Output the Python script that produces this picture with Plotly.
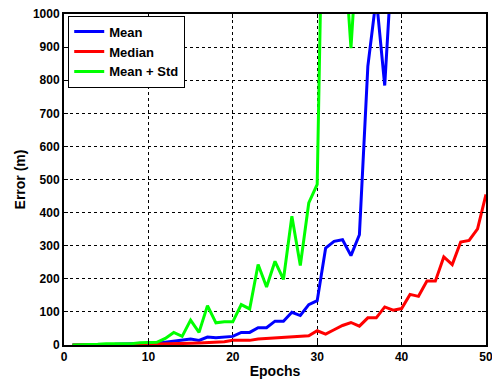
import plotly.graph_objects as go

# Localisation error per training epoch
epochs = list(range(1, 51))

mean_err = [0, 0, 0, 1, 2, 2, 3, 3, 4, 5,
            5, 8, 12, 14, 18, 14, 24, 22, 25, 26,
            38, 38, 52, 52, 72, 72, 99, 89, 122, 134,
            293, 313, 318, 270, 333, 842, 1050, 784, 1216, 1480,
            1650, 1720, 1900, 2050, 2300, 2200, 2500, 2700, 2900, 3200]

median_err = [0, 0, 0, 0, 1, 1, 1, 1, 2, 2,
              3, 3, 4, 4, 5, 6, 7, 8, 10, 14,
              14, 14, 18, 20, 22, 24, 26, 28, 28, 43,
              33, 46, 59, 68, 57, 82, 82, 115, 105, 110,
              153, 147, 193, 193, 266, 243, 311, 316, 351, 455]

mean_plus_std = [0, 0, 0, 2, 4, 4, 4, 4, 7, 8,
                 8, 20, 38, 26, 75, 38, 119, 67, 70, 70,
                 122, 109, 243, 175, 253, 198, 389, 240, 429, 485,
                 1877, 2100, 1278, 897, 1412, 2600, 3100, 2900, 3600, 3900,
                 4200, 4300, 4700, 5000, 5400, 5300, 5800, 6100, 6500, 7000]

series = [
    ("Mean", mean_err, "#0000ff"),
    ("Median", median_err, "#ff0000"),
    ("Mean + Std", mean_plus_std, "#00ff00"),
]

family = "Liberation Sans, Arial, sans-serif"
tick_font = dict(family=family, size=12, color="black", weight="bold")
label_font = dict(family=family, size=14, color="black", weight="bold")
legend_font = dict(family=family, size=13, color="black", weight="bold")

fig = go.Figure()
for name, vals, color in series:
    fig.add_trace(go.Scatter(x=epochs, y=vals, mode="lines", name=name,
                             line=dict(color=color, width=3)))

axis_common = dict(
    showline=True, linecolor="black", linewidth=2, mirror="ticks",
    ticks="inside", ticklen=4, tickcolor="black", tickwidth=1,
    showgrid=True, gridcolor="black", griddash="dot", gridwidth=1,
    zeroline=False, tickfont=tick_font, automargin=False,
    ticklabeloverflow="allow",
)

fig.update_layout(
    width=492, height=379,
    margin=dict(l=64, r=6, t=14, b=34),
    paper_bgcolor="white", plot_bgcolor="white",
    xaxis=dict(range=[0, 50], dtick=10, tick0=0,
               title=dict(text="Epochs", font=label_font, standoff=5), **axis_common),
    yaxis=dict(range=[0, 1000], dtick=100, tick0=0,
               title=dict(text="Error (m)", font=label_font, standoff=4), **axis_common),
    legend=dict(x=0.01, y=0.995, xanchor="left", yanchor="top",
                bgcolor="white", bordercolor="black", borderwidth=1,
                font=legend_font, itemwidth=30, tracegroupgap=0),
    showlegend=True,
)

fig.write_html("out.html")
